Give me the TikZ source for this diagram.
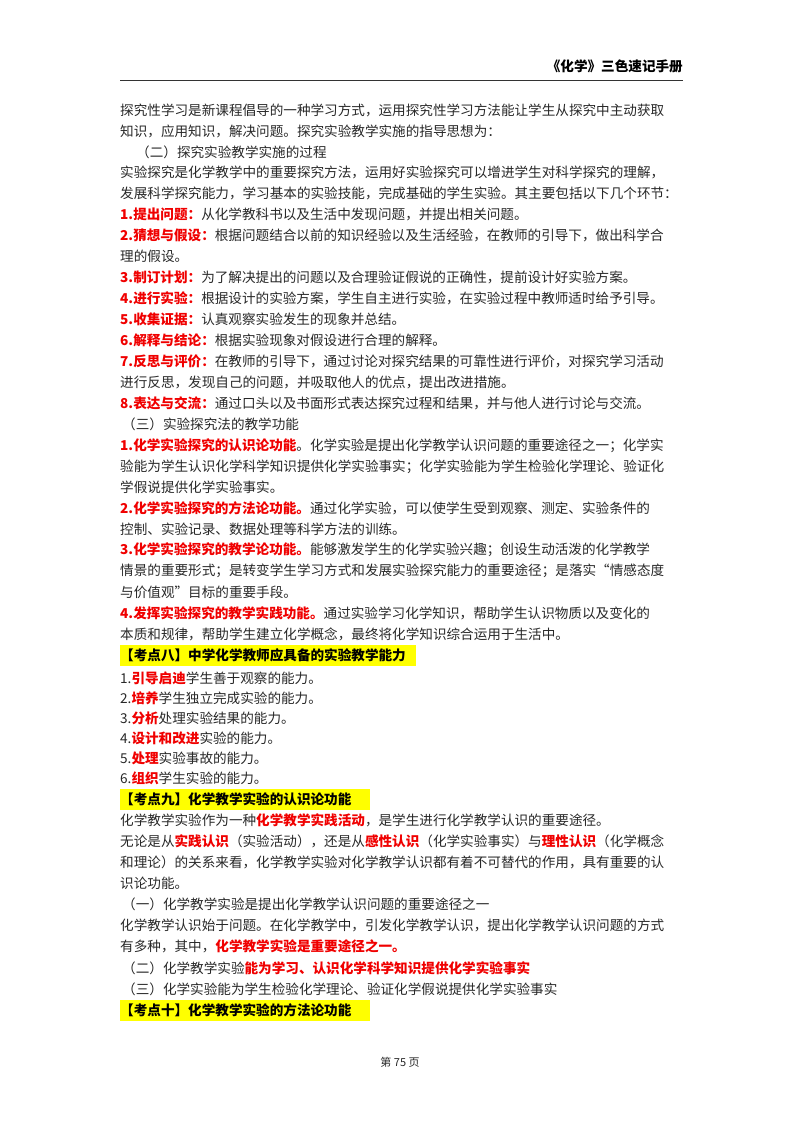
\documentclass[tikz,border=0pt]{standalone}
\usepackage{fontspec}
\setmainfont{Noto Sans CJK SC}
\definecolor{kred}{RGB}{240,0,0}
\definecolor{ktext}{RGB}{40,40,40}
\definecolor{kyel}{RGB}{255,255,0}
\newcommand\hr[1]{{\color{kred}\bfseries #1}}
\tikzset{ln/.style={anchor=west,inner sep=0pt,text=ktext,font=\fontsize{13.6}{14}\selectfont},
 hd/.style={ln,font=\fontsize{13.6}{14}\selectfont\bfseries,text=black}}
\begin{document}
\begin{tikzpicture}[x=1pt,y=-1pt]
\useasboundingbox[fill=white] (0,0) rectangle (800,1132);
\node[anchor=east,inner sep=0pt,font=\fontsize{13.6}{14}\selectfont\bfseries] (hdr) at (683,66) {《化学》三色速记手册};
\draw[line width=1pt,black!80] (120,80) coordinate (r1) -- (683,80) coordinate (r2);
\def\L{20.96}
\node[ln] (a1) at (120,110) {探究性学习是新课程倡导的一种学习方式，运用探究性学习方法能让学生从探究中主动获取};
\node[ln] (a2) at (120,{110+1*\L}) {知识，应用知识，解决问题。探究实验教学实施的指导思想为：};
\node[ln] (a3) at (136,{110+2*\L}) {（二）探究实验教学实施的过程};
\node[ln] (a4) at (120,{110+3*\L}) {实验探究是化学教学中的重要探究方法，运用好实验探究可以增进学生对科学探究的理解，};
\node[ln] (a5) at (120,{110+4*\L}) {发展科学探究能力，学习基本的实验技能，完成基础的学生实验。其主要包括以下几个环节：};
\node[ln] (a6) at (120,{110+5*\L}) {\hr{1.提出问题：}从化学教科书以及生活中发现问题，并提出相关问题。};
\node[ln] (a7) at (120,{110+6*\L}) {\hr{2.猜想与假设：}根据问题结合以前的知识经验以及生活经验，在教师的引导下，做出科学合};
\node[ln] (a8) at (120,{110+7*\L}) {理的假设。};
\node[ln] (a9) at (120,{110+8*\L}) {\hr{3.制订计划：}为了解决提出的问题以及合理验证假说的正确性，提前设计好实验方案。};
\node[ln] (a10) at (120,{110+9*\L}) {\hr{4.进行实验：}根据设计的实验方案，学生自主进行实验，在实验过程中教师适时给予引导。};
\node[ln] (a11) at (120,{110+10*\L}) {\hr{5.收集证据：}认真观察实验发生的现象并总结。};
\node[ln] (a12) at (120,{110+11*\L}) {\hr{6.解释与结论：}根据实验现象对假设进行合理的解释。};
\node[ln] (a13) at (120,{110+12*\L}) {\hr{7.反思与评价：}在教师的引导下，通过讨论对探究结果的可靠性进行评价，对探究学习活动};
\node[ln] (a14) at (120,{110+13*\L}) {进行反思，发现自己的问题，并吸取他人的优点，提出改进措施。};
\node[ln] (a15) at (120,{110+14*\L}) {\hr{8.表达与交流：}通过口头以及书面形式表达探究过程和结果，并与他人进行讨论与交流。};
\node[ln] (a16) at (122,{110+15*\L}) {（三）实验探究法的教学功能};
\node[ln] (a17) at (120,{110+16*\L}) {\hr{1.化学实验探究的认识论功能}。化学实验是提出化学教学认识问题的重要途径之一；化学实};
\node[ln] (a18) at (120,{110+17*\L}) {验能为学生认识化学科学知识提供化学实验事实；化学实验能为学生检验化学理论、验证化};
\node[ln] (a19) at (120,{110+18*\L}) {学假说提供化学实验事实。};
\node[ln] (a20) at (120,{110+19*\L}) {\hr{2.化学实验探究的方法论功能。}通过化学实验，可以使学生受到观察、测定、实验条件的};
\node[ln] (a21) at (120,{110+20*\L}) {控制、实验记录、数据处理等科学方法的训练。};
\node[ln] (a22) at (120,{110+21*\L}) {\hr{3.化学实验探究的教学论功能。}能够激发学生的化学实验兴趣；创设生动活泼的化学教学};
\node[ln] (a23) at (120,{110+22*\L}) {情景的重要形式；是转变学生学习方式和发展实验探究能力的重要途径；是落实“情感态度};
\node[ln] (a24) at (120,{110+23*\L}) {与价值观”目标的重要手段。};
\node[ln] (a25) at (120,{110+24*\L}) {\hr{4.发挥实验探究的教学实践功能。}通过实验学习化学知识，帮助学生认识物质以及变化的};
\node[ln] (a26) at (120,{110+25*\L}) {本质和规律，帮助学生建立化学概念，最终将化学知识综合运用于生活中。};
\fill[kyel] (120,645) rectangle (416,666);
\node[hd] (k8) at (120,655) {【考点八】中学化学教师应具备的实验教学能力};
\node[ln] (b1) at (120,678) {1.\hr{引导启迪}学生善于观察的能力。};
\node[ln] (b2) at (120,698) {2.\hr{培养}学生独立完成实验的能力。};
\node[ln] (b3) at (120,718) {3.\hr{分析}处理实验结果的能力。};
\node[ln] (b4) at (120,738) {4.\hr{设计和改进}实验的能力。};
\node[ln] (b5) at (120,758) {5.\hr{处理}实验事故的能力。};
\node[ln] (b6) at (120,778) {6.\hr{组织}学生实验的能力。};
\fill[kyel] (120,789) rectangle (370,810);
\node[hd] (k9) at (120,799) {【考点九】化学教学实验的认识论功能};
\def\M{21.1}
\node[ln] (c1) at (120,{799+1*\M}) {化学教学实验作为一种\hr{化学教学实践活动}，是学生进行化学教学认识的重要途径。};
\node[ln] (c2) at (120,{799+2*\M}) {无论是从\hr{实践认识}（实验活动），还是从\hr{感性认识}（化学实验事实）与\hr{理性认识}（化学概念};
\node[ln] (c3) at (120,{799+3*\M}) {和理论）的关系来看，化学教学实验对化学教学认识都有着不可替代的作用，具有重要的认};
\node[ln] (c4) at (120,{799+4*\M}) {识论功能。};
\node[ln] (c5) at (122,{799+5*\M}) {（一）化学教学实验是提出化学教学认识问题的重要途径之一};
\node[ln] (c6) at (120,{799+6*\M}) {化学教学认识始于问题。在化学教学中，引发化学教学认识，提出化学教学认识问题的方式};
\node[ln] (c7) at (120,{799+7*\M}) {有多种，其中，\hr{化学教学实验是重要途径之一。}};
\node[ln] (c8) at (122,{799+8*\M}) {（二）化学教学实验\hr{能为学习、认识化学科学知识提供化学实验事实}};
\node[ln] (c9) at (122,{799+9*\M}) {（三）化学实验能为学生检验化学理论、验证化学假说提供化学实验事实};
\fill[kyel] (120,1000) rectangle (370,1021);
\node[hd] (k10) at (120,1010) {【考点十】化学教学实验的方法论功能};
\node[inner sep=0pt,font=\fontsize{11}{12}\selectfont,text=ktext] (ft) at (400,1062) {第 75 页};
\end{tikzpicture}
\end{document}
